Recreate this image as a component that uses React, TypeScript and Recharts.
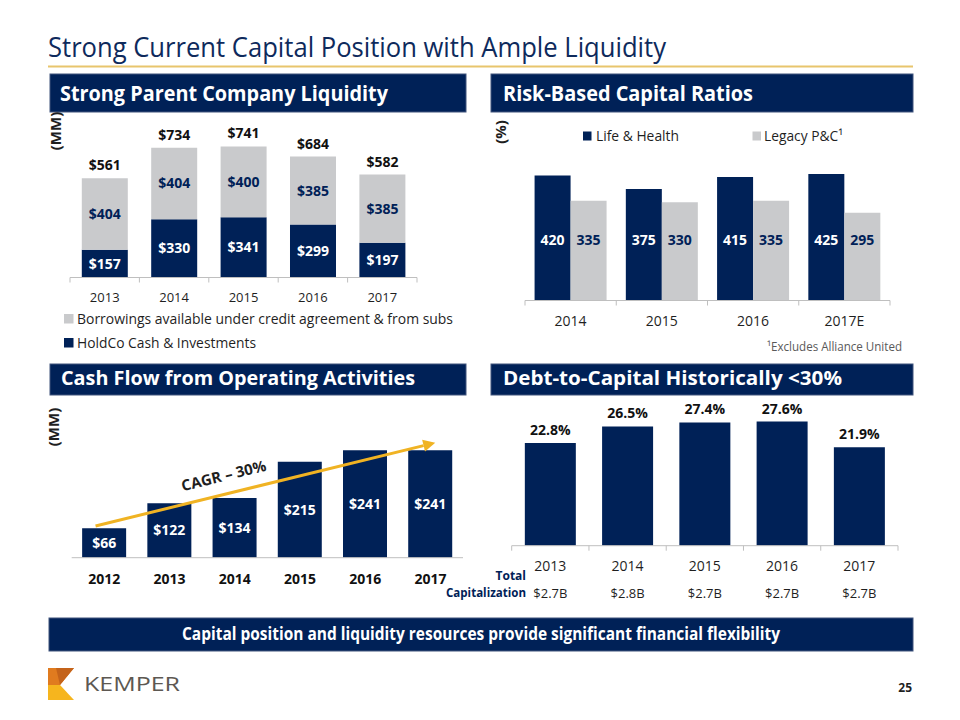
import React from 'react';
import { BarChart, Bar, XAxis, YAxis, LabelList, ReferenceLine } from 'recharts';

const NAVY = '#002157';
const GRAY = '#c9cacc';
const GOLD = '#f0b323';
const AXIS = '#bfbfbf';
const INK = '#1f1f1f';
const FONT = '"Open Sans", "Noto Sans", sans-serif';

// Strong Parent Company Liquidity ($MM)
const liqYears = ['2013', '2014', '2015', '2016', '2017'];
const holdcoCash = [157, 330, 341, 299, 197];
const borrowings = [404, 404, 400, 385, 385];

// Risk-Based Capital Ratios (%)
const rbcYears = ['2014', '2015', '2016', '2017E'];
const lifeHealth = [420, 375, 415, 425];
const legacyPC = [335, 330, 335, 295];

// Cash Flow from Operating Activities ($MM)
const cfYears = ['2012', '2013', '2014', '2015', '2016', '2017'];
const cashFlow = [66, 122, 134, 215, 241, 241];
const cagrFrom = 76;
const cagrTo = 255;

// Debt-to-Capital Historically (%)
const dcYears = ['2013', '2014', '2015', '2016', '2017'];
const debtToCap = [22.8, 26.5, 27.4, 27.6, 21.9];
const totalCap = ['$2.7B', '$2.8B', '$2.7B', '$2.7B', '$2.7B'];

const liqData = liqYears.map((year, i) => ({
  year,
  cash: holdcoCash[i],
  borrow: borrowings[i],
  total: holdcoCash[i] + borrowings[i],
}));
const rbcData = rbcYears.map((year, i) => ({ year, life: lifeHealth[i], legacy: legacyPC[i] }));
const cfData = cfYears.map((year, i) => ({ year, cf: cashFlow[i] }));
const dcData = dcYears.map((year, i) => ({ year, ratio: debtToCap[i] }));

const money = (v: any) => '$' + v;

// x-axis tick with Excel-style marks between categories
const makeTick =
  (step: number, count: number, dy: number, textStyle: any, marks: boolean, sub?: string[]) =>
  (props: any) => {
    const { x, y, payload, index } = props;
    return (
      <g>
        {marks && <line x1={x - step / 2} y1={y} x2={x - step / 2} y2={y + 5} stroke={AXIS} />}
        {marks && index === count - 1 && (
          <line x1={x + step / 2} y1={y} x2={x + step / 2} y2={y + 5} stroke={AXIS} />
        )}
        <text x={x} y={y + dy} textAnchor="middle" {...textStyle}>
          {payload.value}
        </text>
        {sub && (
          <text x={x} y={y + dy + 27} textAnchor="middle" fontSize={13} fill={INK}>
            {sub[index]}
          </text>
        )}
      </g>
    );
  };

const CagrArrow = (props: any) => {
  const { x1, y1, x2, y2 } = props;
  const len = Math.hypot(x2 - x1, y2 - y1);
  const ux = (x2 - x1) / len;
  const uy = (y2 - y1) / len;
  const sx = x1 - ux * 9;
  const sy = y1 - uy * 9;
  const tx = x2 + ux * 5;
  const ty = y2 + uy * 5;
  const bx = tx - ux * 12;
  const by = ty - uy * 12;
  const angle = (Math.atan2(uy, ux) * 180) / Math.PI;
  const t = 0.39;
  const mx = sx + (tx - sx) * t + uy * 13;
  const my = sy + (ty - sy) * t - ux * 13;
  return (
    <g>
      <line x1={sx} y1={sy} x2={bx} y2={by} stroke={GOLD} strokeWidth={3} />
      <polygon
        points={`${tx},${ty} ${bx - uy * 6},${by + ux * 6} ${bx + uy * 6},${by - ux * 6}`}
        fill={GOLD}
      />
      <text
        x={mx}
        y={my}
        transform={`rotate(${angle} ${mx} ${my})`}
        textAnchor="middle"
        fontSize={15}
        fontWeight={700}
        fill={INK}
      >
        CAGR – 30%
      </text>
    </g>
  );
};

const Header = ({ x, y, w, h, text, tx, tl, base, size }: any) => (
  <g>
    <rect x={x} y={y} width={w} height={h} fill={NAVY} stroke="#41557d" strokeWidth={1} />
    <text x={tx} y={base} fill="#fff" fontWeight={700} fontSize={size} textLength={tl} lengthAdjust="spacingAndGlyphs">
      {text}
    </text>
  </g>
);

const Slide = () => (
  <svg width={960} height={720} style={{ position: 'absolute', left: 0, top: 0 }}>
    <text x={48} y={57} fontSize={27} fill="#0e2a5c" textLength={618} lengthAdjust="spacingAndGlyphs">
      Strong Current Capital Position with Ample Liquidity
    </text>
    <rect x={48} y={65.5} width={865} height={2} fill="#e8c56d" />

    <Header x={50} y={74} w={416} h={38} tx={60} tl={328} base={101} size={22} text="Strong Parent Company Liquidity" />
    <Header x={491} y={74} w={422} h={38} tx={503} tl={250} base={101} size={22} text="Risk-Based Capital Ratios" />
    <Header x={50} y={364} w={416} h={31} tx={61} tl={354} base={385} size={20} text="Cash Flow from Operating Activities" />
    <Header x={491} y={364} w={422} h={31} tx={503} tl={339} base={385} size={20} text="Debt-to-Capital Historically <30%" />

    <text transform="translate(56,131) rotate(-90)" textAnchor="middle" dy="0.35em" fontSize={15} fontWeight={700} fill={INK}>
      (MM)
    </text>
    <text transform="translate(501,132) rotate(-90)" textAnchor="middle" dy="0.35em" fontSize={15} fontWeight={700} fill={INK}>
      (%)
    </text>
    <text transform="translate(54,427) rotate(-90)" textAnchor="middle" dy="0.35em" fontSize={15} fontWeight={700} fill={INK}>
      (MM)
    </text>

    {/* legend: parent liquidity */}
    <rect x={64} y={314} width={9.5} height={9.5} fill={GRAY} />
    <text x={77} y={324} fontSize={15} fill={INK} textLength={376} lengthAdjust="spacingAndGlyphs">
      Borrowings available under credit agreement &amp; from subs
    </text>
    <rect x={64} y={338} width={9.5} height={9.5} fill={NAVY} />
    <text x={77} y={348} fontSize={15} fill={INK} textLength={179} lengthAdjust="spacingAndGlyphs">
      HoldCo Cash &amp; Investments
    </text>

    {/* legend: risk-based capital */}
    <rect x={583} y={131.5} width={8.5} height={9} fill={NAVY} />
    <text x={596} y={141} fontSize={15} fill={INK} textLength={83} lengthAdjust="spacingAndGlyphs">
      Life &amp; Health
    </text>
    <rect x={752.5} y={131.5} width={8.5} height={9} fill={GRAY} />
    <text x={764} y={141} fontSize={15} fill={INK} textLength={79} lengthAdjust="spacingAndGlyphs">
      Legacy P&amp;C¹
    </text>
    <text x={902} y={351} textAnchor="end" fontSize={13} fill="#595959" textLength={135} lengthAdjust="spacingAndGlyphs">
      ¹Excludes Alliance United
    </text>

    <text x={526} y={580} textAnchor="end" fontSize={12} fontWeight={700} fill={NAVY}>
      Total
    </text>
    <text x={526} y={597} textAnchor="end" fontSize={12} fontWeight={700} fill={NAVY} textLength={80} lengthAdjust="spacingAndGlyphs">
      Capitalization
    </text>

    <rect x={49} y={618} width={864} height={33} fill={NAVY} stroke="#41557d" strokeWidth={1} />
    <text x={481} y={640} textAnchor="middle" fontSize={17} fontWeight={700} fill="#fff" textLength={598} lengthAdjust="spacingAndGlyphs">
      Capital position and liquidity resources provide significant financial flexibility
    </text>

    {/* logo */}
    <polygon points="48,668 74,668 60,685 48,685" fill="#e07b1f" />
    <polygon points="56,668 74,668 60,685" fill="#c4631a" />
    <polygon points="48,685 60,685 74,700 48,700" fill="#f6b51e" />
    <text x={84} y={691} fontSize={20} fill="#5d5852" textLength={96} lengthAdjust="spacingAndGlyphs">
      KEMPER
    </text>
    <text x={912} y={692} textAnchor="end" fontSize={12} fontWeight={700} fill={INK}>
      25
    </text>
  </svg>
);

const boldLabel = { fontSize: 14, fontWeight: 700 };

const App = () => (
  <div
    style={{
      position: 'absolute',
      left: 0,
      top: 0,
      width: 960,
      height: 720,
      background: '#fff',
      fontFamily: FONT,
      overflow: 'hidden',
    }}
  >
    <Slide />

    <div style={{ position: 'absolute', left: 50, top: 115 }}>
      <BarChart width={390} height={200} data={liqData} margin={{ top: 21, right: 23, bottom: 7.5, left: 20 }} barCategoryGap="17%">
        <XAxis
          dataKey="year"
          height={30}
          axisLine={{ stroke: AXIS }}
          tickLine={false}
          tickSize={0}
          tickMargin={0}
          interval={0}
          tick={makeTick(69.4, 5, 24, { fontSize: 13, fill: INK }, true)}
        />
        <YAxis hide domain={[0, 800]} allowDataOverflow />
        <Bar dataKey="cash" stackId="s" fill={NAVY} isAnimationActive={false}>
          <LabelList dataKey="cash" position="center" formatter={money} fill="#fff" {...boldLabel} />
        </Bar>
        <Bar dataKey="borrow" stackId="s" fill={GRAY} isAnimationActive={false}>
          <LabelList dataKey="borrow" position="center" formatter={money} fill={NAVY} {...boldLabel} />
          <LabelList dataKey="total" position="top" offset={8} formatter={money} fill="#111" {...boldLabel} />
        </Bar>
      </BarChart>
    </div>

    <div style={{ position: 'absolute', left: 480, top: 110 }}>
      <BarChart width={440} height={240} data={rbcData} margin={{ top: 41.7, right: 30, bottom: 19.5, left: 45 }} barCategoryGap="10.5%" barGap={0}>
        <XAxis
          dataKey="year"
          height={30}
          axisLine={{ stroke: AXIS }}
          tickLine={false}
          tickSize={0}
          tickMargin={0}
          interval={0}
          tick={makeTick(91.25, 4, 25, { fontSize: 14, fill: INK }, true)}
        />
        <YAxis hide domain={[0, 500]} allowDataOverflow />
        <Bar dataKey="life" fill={NAVY} isAnimationActive={false}>
          <LabelList dataKey="life" position="insideBottom" offset={56} fill="#fff" {...boldLabel} />
        </Bar>
        <Bar dataKey="legacy" fill={GRAY} isAnimationActive={false}>
          <LabelList dataKey="legacy" position="insideBottom" offset={56} fill={NAVY} {...boldLabel} />
        </Bar>
      </BarChart>
    </div>

    <div style={{ position: 'absolute', left: 50, top: 400 }}>
      <BarChart width={430} height={190} data={cfData} margin={{ top: 23.9, right: 17, bottom: 2.3, left: 21.7 }} barCategoryGap="16%">
        <XAxis
          dataKey="year"
          height={30}
          axisLine={{ stroke: AXIS }}
          tickLine={false}
          tickSize={0}
          tickMargin={0}
          interval={0}
          tick={makeTick(65.2, 6, 26, { fontSize: 14, fontWeight: 700, fill: '#111' }, false)}
        />
        <YAxis hide domain={[0, 300]} allowDataOverflow />
        <Bar dataKey="cf" fill={NAVY} isAnimationActive={false}>
          <LabelList dataKey="cf" position="center" formatter={money} fill="#fff" {...boldLabel} />
        </Bar>
        <ReferenceLine
          segment={[
            { x: '2012', y: cagrFrom },
            { x: '2017', y: cagrTo },
          ]}
          ifOverflow="visible"
          shape={CagrArrow}
        />
      </BarChart>
    </div>

    <div style={{ position: 'absolute', left: 490, top: 395 }}>
      <BarChart width={430} height={210} data={dcData} margin={{ top: 15.7, right: 22, bottom: 4.3, left: 21.7 }} barCategoryGap="17%">
        <XAxis
          dataKey="year"
          height={55}
          axisLine={{ stroke: AXIS }}
          tickLine={false}
          tickSize={0}
          tickMargin={0}
          interval={0}
          tick={makeTick(77.26, 5, 25, { fontSize: 14, fill: INK }, true, totalCap)}
        />
        <YAxis hide domain={[0, 30]} allowDataOverflow />
        <Bar dataKey="ratio" fill={NAVY} isAnimationActive={false}>
          <LabelList
            dataKey="ratio"
            position="top"
            offset={8}
            formatter={(v: any) => Number(v).toFixed(1) + '%'}
            fill="#111"
            {...boldLabel}
          />
        </Bar>
      </BarChart>
    </div>
  </div>
);

export default App;
